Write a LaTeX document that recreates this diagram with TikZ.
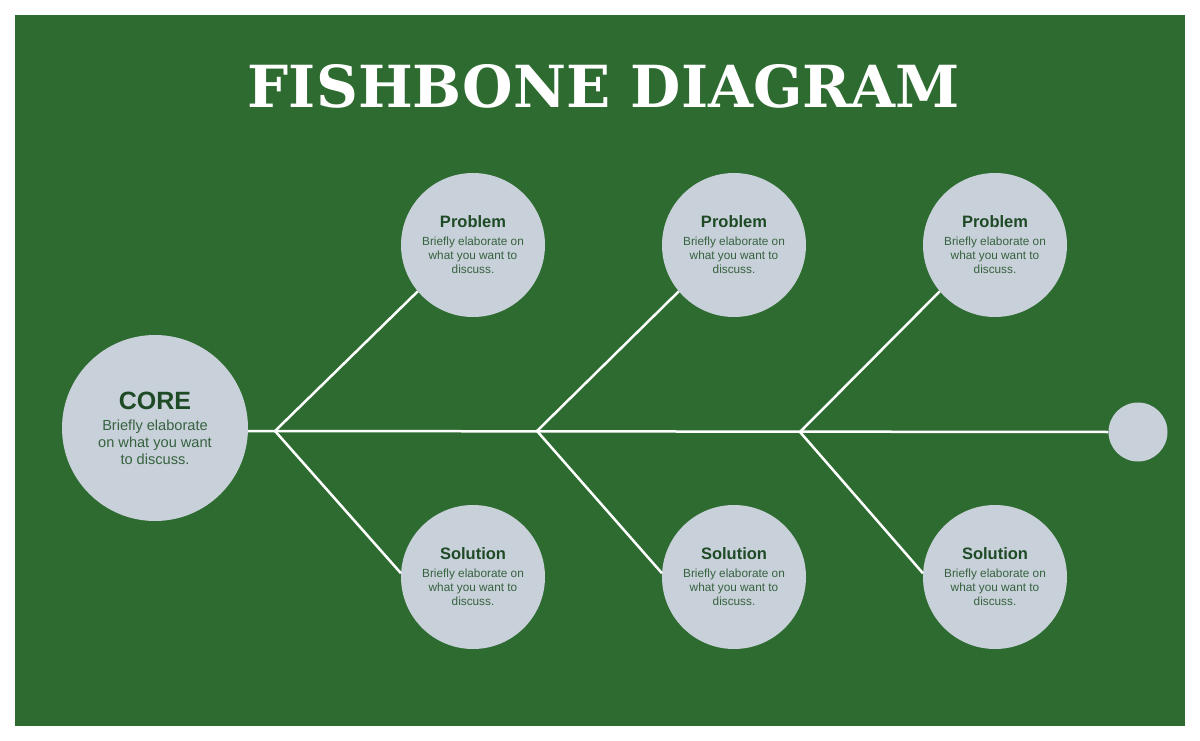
\documentclass[tikz,border=0pt]{standalone}
\usepackage{fontspec}
\setmainfont{Liberation Sans}
\newfontfamily\titlefont{DejaVu Serif}
\usetikzlibrary{positioning}
\definecolor{fishgreen}{HTML}{2E6B31}
\definecolor{bubblegray}{HTML}{C8D0D9}
\definecolor{headgreen}{HTML}{1E4A26}
\definecolor{bodygreen}{HTML}{36623F}
\newcommand{\bonehead}[2]{{\fontsize{#2}{#2}\selectfont\bfseries\color{headgreen}#1}}

\begin{document}
\begin{tikzpicture}[x=1pt, y=-1pt,
    bubble/.style={circle, fill=bubblegray, minimum size=144pt, inner sep=0pt,
      align=center, text=bodygreen, font=\fontsize{11.8}{14}\selectfont},
    bone/.style={white, line width=2.5pt}]
  \useasboundingbox (0,0) rectangle (1200,741);
  \fill[white] (0,0) rectangle (1200,741);
  \fill[fishgreen] (15,15) rectangle (1185,726);
  \node[font=\titlefont\bfseries\fontsize{58}{58}\selectfont, text=white, inner sep=0pt] (title) at (604,86)
    {\scalebox{1.0}[1]{FISHBONE DIAGRAM}};

  % head and tail of the fish
  \node[bubble, minimum size=186pt, font=\fontsize{14.6}{17}\selectfont] (core) at (155,428)
    {\bonehead{CORE}{25}\\[4pt]Briefly elaborate\\on what you want\\to discuss.};
  \node[circle, fill=bubblegray, minimum size=59pt, inner sep=0pt] (tail) at (1138,432) {};
  \coordinate (j1) at (275,431);
  \coordinate (j2) at (537,431);
  \coordinate (j3) at (800,432);
  \draw[bone] (core.east |- j1) -- (tail.west);

  \foreach \i/\x in {1/473, 2/734, 3/995} {
    \node[bubble] (p\i) at (\x,245) {\bonehead{Problem}{16.5}\\[4pt]Briefly elaborate on\\what you want to\\discuss.};
    \node[bubble] (s\i) at (\x,577) {\bonehead{Solution}{16.5}\\[4pt]Briefly elaborate on\\what you want to\\discuss.};
    \draw[bone] (j\i) -- (p\i.220);
    \draw[bone] (j\i) -- (s\i.177);
  }
\end{tikzpicture}
\end{document}
